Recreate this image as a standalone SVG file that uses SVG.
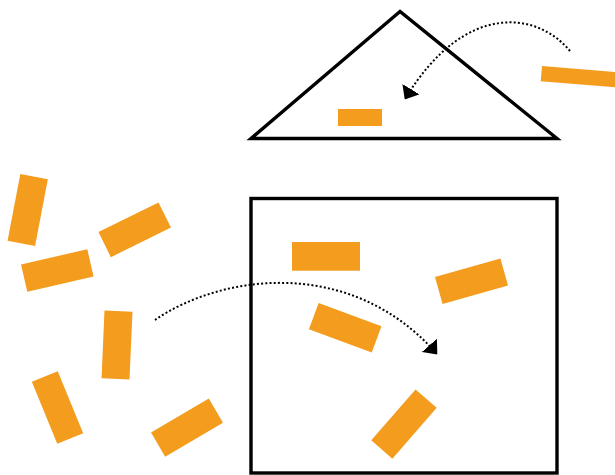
<svg xmlns="http://www.w3.org/2000/svg" width="615" height="475" viewBox="0 0 615 475">
<style>
.shape{fill:none;stroke:#000;stroke-width:3.4;stroke-linejoin:miter}
.blk{fill:#F39C1E}
.conn{fill:none;stroke:#000;stroke-width:2;stroke-dasharray:2 2.2}
</style>
<defs>
<marker id="ah" markerUnits="userSpaceOnUse" viewBox="0 0 12 20" refX="11.5" refY="10" markerWidth="12" markerHeight="20" orient="auto">
<path d="M0,0 L12,10 L0,20 Z" fill="#000"/>
</marker>
</defs>
<rect width="615" height="475" fill="#fff"/>
<g id="roof"><polygon class="shape" points="400,11.5 251,138.5 557,138.5"/></g>
<g id="house"><rect class="shape" x="251" y="198.5" width="306" height="274.5"/></g>
<g id="b-roof"><rect class="blk" x="338" y="109" width="44" height="17"/></g>
<g id="b-outside-tr"><rect class="blk" x="542" y="66" width="80" height="15.3" transform="rotate(4.7 542 66)"/></g>
<g id="b1"><rect class="blk" x="-14" y="-34" width="28" height="68" transform="translate(27.7 210) rotate(10.8)"/></g>
<g id="b2"><rect class="blk" x="-33.5" y="-14" width="67" height="28" transform="translate(134.7 229.8) rotate(-26.3)"/></g>
<g id="b3"><rect class="blk" x="-34" y="-14" width="68" height="28" transform="translate(57.3 270.5) rotate(-13)"/></g>
<g id="b4"><rect class="blk" x="-14" y="-34" width="28" height="68" transform="translate(117 345) rotate(2.5)"/></g>
<g id="b5"><rect class="blk" x="-14" y="-33.5" width="28" height="67" transform="translate(57.5 407.5) rotate(-22.3)"/></g>
<g id="b6"><rect class="blk" x="-33.5" y="-14" width="67" height="28" transform="translate(187 427.6) rotate(-30.4)"/></g>
<g id="b7"><rect class="blk" x="292" y="242" width="68" height="28.7"/></g>
<g id="b8"><rect class="blk" x="-34" y="-14" width="68" height="28" transform="translate(471.5 281.2) rotate(-15.8)"/></g>
<g id="b9"><rect class="blk" x="-33.5" y="-14" width="67" height="28" transform="translate(345.2 327.8) rotate(20.4)"/></g>
<g id="b10"><rect class="blk" x="-14" y="-33.7" width="28" height="67.5" transform="translate(404 424) rotate(41)"/></g>
<g id="connectors">
<path class="conn" d="M570,51 C538,12 465,0 405,99" marker-end="url(#ah)"/>
<path class="conn" d="M155,320 C220,275 350,255 437,354" marker-end="url(#ah)"/>
</g>
</svg>
